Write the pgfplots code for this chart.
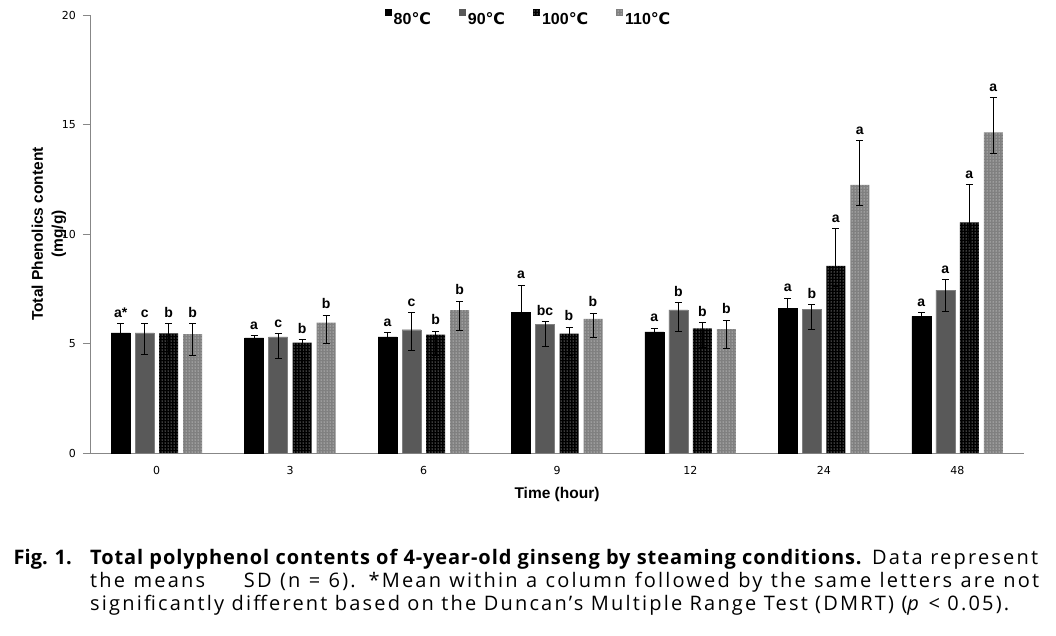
\documentclass[border=0pt]{standalone}
\usepackage{fontspec}
\setmainfont{Liberation Sans}
\newfontfamily\dejavu{DejaVu Sans}
\newfontfamily\capfont[LetterSpace=11]{Open Sans}
\usepackage{pgfplots}
\pgfplotsset{compat=1.18}
\usepackage{pgfplotstable}
\usetikzlibrary{patterns}
\newcommand{\degc}{{\dejavu ℃}}

\pgfplotstableread{
x y ep em lab
0 5.49 0.43 0.96 {a*}
1 5.26 0.11 0.96 a
2 5.30 0.19 0.96 a
3 6.42 1.25 0.96 a
4 5.53 0.17 0.96 a
5 6.61 0.46 0.96 a
6 6.24 0.18 0.96 a
}\tA
\pgfplotstableread{
x y ep em lab
0 5.49 0.43 0.98 c
1 5.30 0.15 0.99 c
2 5.63 0.79 0.97 c
3 5.86 0.15 0.99 bc
4 6.54 0.32 0.98 b
5 6.56 0.20 0.94 b
6 7.44 0.49 0.96 a
}\tB
\pgfplotstableread{
x y ep em lab
0 5.46 0.46 0.98 b
1 5.04 0.15 0.95 b
2 5.40 0.16 0.93 b
3 5.45 0.29 0.98 b
4 5.69 0.26 0.86 b
5 8.55 1.70 0.96 a
6 10.53 1.71 0.95 a
}\tC
\pgfplotstableread{
x y ep em lab
0 5.43 0.48 0.99 b
1 5.95 0.34 0.94 b
2 6.52 0.41 0.94 b
3 6.12 0.26 0.86 b
4 5.66 0.41 0.90 b
5 12.24 2.02 0.94 a
6 14.64 1.58 0.96 a
}\tD

\begin{document}
\begin{tikzpicture}
\path[use as bounding box] (0,0) rectangle (1056pt,-635pt);
\begin{axis}[
  at={(90pt,-453pt)}, anchor=south west,
  scale only axis, width=934pt, height=438pt,
  ymin=0, ymax=20, ytick={0,5,10,15,20},
  xmin=-0.5, xmax=6.5, xtick={0,...,6}, xticklabels={0,3,6,9,12,24,48},
  axis x line*=bottom, axis y line*=left,
  axis line style={draw=black!47, line width=1pt},
  tick align=outside, major tick length=7pt,
  ytick style={draw=black!47, line width=1pt},
  xtick style={draw=none},
  tick label style={font=\dejavu\fontsize{11}{13}\selectfont, /pgf/number format/assume math mode=true},
  yticklabel style={inner sep=0pt, anchor=east, xshift=-7pt},
  xticklabel style={inner sep=0pt, anchor=center, yshift=-10pt},
  ybar=5pt, bar width=19pt,
  xlabel={Time (hour)},
  ylabel={Total Phenolics content\\(mg/g)},
  every axis x label/.style={at={(axis description cs:0.5,-0.0936)}, anchor=center, font=\bfseries\fontsize{15.5}{20}\selectfont},
  every axis y label/.style={at={(axis description cs:-0.0439,0.5)}, rotate=90, anchor=center, align=center, font=\bfseries\fontsize{15.5}{20}\selectfont},
  error bars/y dir=both, error bars/y explicit,
  error bars/error bar style={black, line width=1pt},
  error bars/error mark options={rotate=90, mark size=3.5pt, line width=1pt, black},
  nodes near coords={\textbf{\pgfplotspointmeta}}, point meta=explicit symbolic,
  visualization depends on={\thisrow{ep}\as\errp},
  every node near coord/.append style={font=\fontsize{14}{14}\selectfont, anchor=south, inner sep=0pt, yshift={\errp*21.9pt+6pt}, black},
  legend style={at={(0.4695,1)}, anchor=north, yshift=8pt, draw=none, fill=none, legend columns=4,
    font=\bfseries\fontsize{16}{16}\selectfont,
    /tikz/every even column/.append style={column sep=26pt}},
  legend image code/.code={\path[#1, draw=none] (0pt,3pt) rectangle (7pt,10pt);},
]
\addplot[fill=black, draw=black] table[x=x, y=y, y error plus=ep, y error minus=em, meta=lab] {\tA};
\addplot[fill=black!65, draw=black!50] table[x=x, y=y, y error plus=ep, y error minus=em, meta=lab] {\tB};
\addplot[fill=black, draw=none, postaction={pattern=dots, pattern color=white}] table[x=x, y=y, y error plus=ep, y error minus=em, meta=lab] {\tC};
\addplot[fill=black!50, draw=none, postaction={pattern=dots, pattern color=white}] table[x=x, y=y, y error plus=ep, y error minus=em, meta=lab] {\tD};
\legend{80\degc, 90\degc, 100\degc, 110\degc}
\end{axis}
\begin{scope}[every node/.style={anchor=base west, inner sep=0pt}]
\node[anchor=base east] at (72pt,-564pt) {\capfont\fontsize{20}{23}\selectfont\addfontfeature{LetterSpace=0}\bfseries Fig. 1.};
\node at (90pt,-564pt) {\capfont\fontsize{20}{23}\selectfont\makebox[948pt][s]{{\bfseries\addfontfeature{LetterSpace=4.5}Total polyphenol contents of 4-year-old ginseng by steaming conditions.} Data represent}};
\node at (90pt,-587pt) {\capfont\fontsize{20}{23}\selectfont\makebox[949pt][s]{the means \hspace{22pt} SD (n = 6). *Mean within a column followed by the same letters are not}};
\node at (90pt,-610pt) {\capfont\fontsize{20}{23}\selectfont significantly different based on the Duncan’s Multiple Range Test (DMRT) (\textit{p} < 0.05).};
\end{scope}
\end{tikzpicture}
\end{document}
